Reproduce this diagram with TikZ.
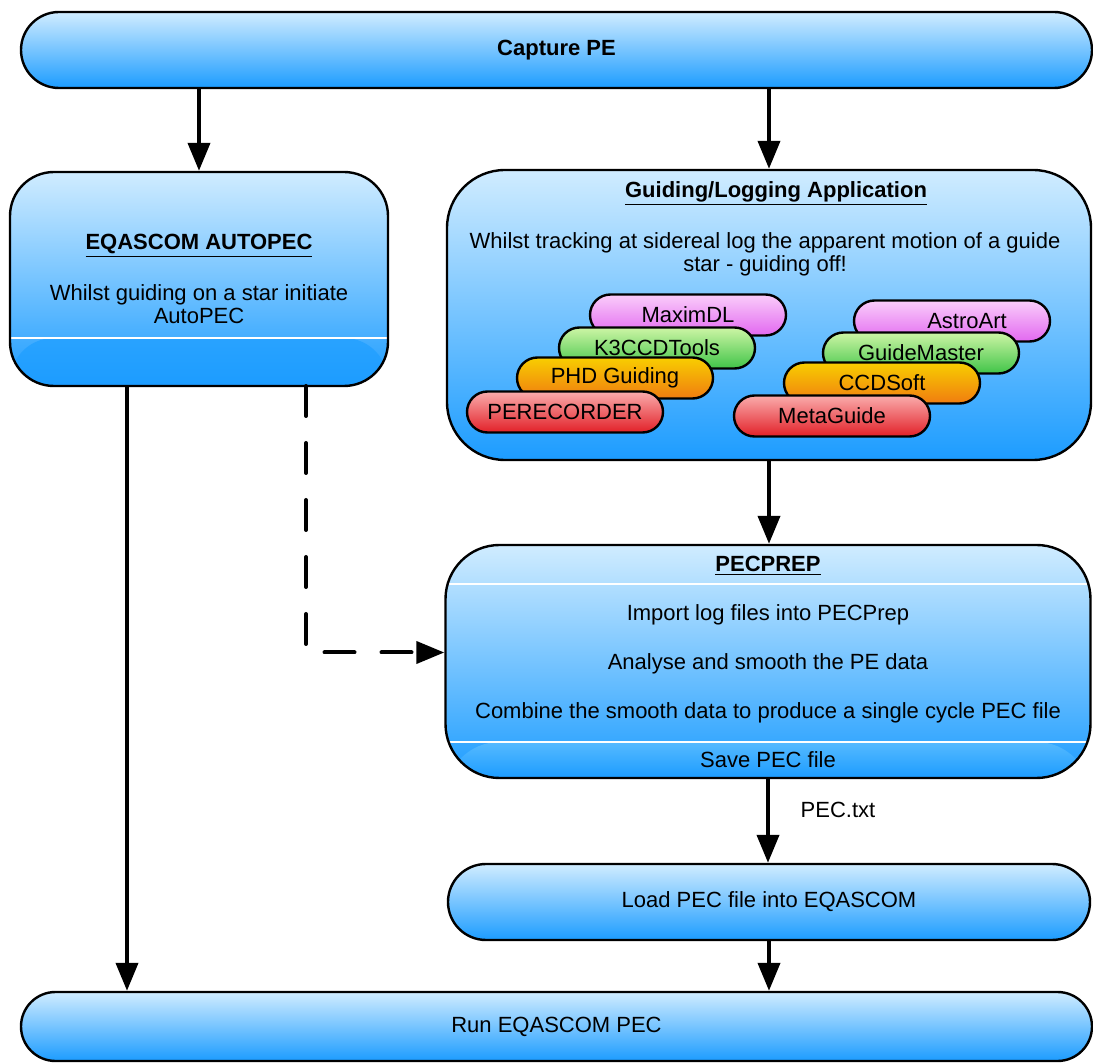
\documentclass[tikz,border=0pt]{standalone}
\usepackage{fontspec}
\setmainfont{Liberation Sans}
\usetikzlibrary{shapes.misc,arrows.meta,positioning}

\definecolor{skytop}{RGB}{208,236,255}
\definecolor{skybot}{RGB}{28,156,255}
\definecolor{skyband}{RGB}{86,186,255}
\definecolor{violettop}{RGB}{250,205,250}
\definecolor{violetbot}{RGB}{226,104,240}
\definecolor{greentop}{RGB}{205,245,165}
\definecolor{greenbot}{RGB}{64,196,72}
\definecolor{orangetop}{RGB}{248,206,0}
\definecolor{orangebot}{RGB}{240,124,16}
\definecolor{redtop}{RGB}{250,172,172}
\definecolor{redbot}{RGB}{226,32,40}

\begin{document}
\begin{tikzpicture}[x=0.5pt,y=-0.5pt,
  font=\fontsize{11}{11.5}\selectfont,
  bar/.style={rounded rectangle, draw, line width=1.2pt, top color=skytop, bottom color=skybot,
    minimum height=38pt, inner sep=0pt},
  panel/.style={rectangle, draw, line width=1.2pt, top color=skytop, bottom color=skybot,
    align=center, inner sep=0pt},
  lowband/.style={path picture={
    \shade[top color=skyband, bottom color=skybot]
      ([yshift=#1]path picture bounding box.south west) rectangle (path picture bounding box.south east);
    \draw[white, line width=1.2pt]
      ([yshift=#1]path picture bounding box.south west) -- ([yshift=#1]path picture bounding box.south east);}},
  app/.style={rounded rectangle, draw, line width=1.2pt, minimum width=98pt, minimum height=20.5pt, inner sep=0pt},
  violetapp/.style={app, top color=violettop, bottom color=violetbot},
  greenapp/.style={app, top color=greentop, bottom color=greenbot},
  orangeapp/.style={app, top color=orangetop, bottom color=orangebot},
  redapp/.style={app, top color=redtop, bottom color=redbot},
  flow/.style={line width=2pt, -{Triangle[length=14pt,width=11pt]}},
  optional/.style={flow, dash pattern=on 15pt off 13.5pt, line cap=round}]

  \useasboundingbox (0,0) rectangle (1093,1063);

  \node[bar, minimum width=535.5pt] (cap) at (556.5,50) {\textbf{Capture PE}};

  \node[panel, lowband=24pt, rounded corners=22pt, minimum width=189pt, minimum height=107pt] (auto) at (199,279)
    {\textbf{\underline{EQASCOM AUTOPEC}}\\[12.5pt] Whilst guiding on a star initiate\\AutoPEC};

  \node[panel, rounded corners=29pt, minimum width=322pt, minimum height=145pt] (guide) at (769,315) {};
  \node (guidetitle) at ([xshift=3.5pt,yshift=-12.5pt]guide.north) {\textbf{\underline{Guiding/Logging Application}}};
  \node[align=center] (guidetext) at ([xshift=-2pt,yshift=-43pt]guide.north)
    {Whilst tracking at sidereal log the apparent motion of  a guide\\star - guiding off!};

  % logging applications
  \node[violetapp] (maxim) at (688,315) {MaximDL};
  \node[greenapp] (k3ccd) at (657,348) {K3CCDTools};
  \node[orangeapp] (phd) at (615,378) {PHD Guiding};
  \node[redapp] (perec) at (565,412) {PERECORDER};
  \node[violetapp] (astroart) at (952,321) {\hspace*{15pt}AstroArt};
  \node[greenapp] (guidemaster) at (921,353) {GuideMaster};
  \node[orangeapp] (ccdsoft) at (882,383) {CCDSoft};
  \node[redapp] (metaguide) at (832,416) {MetaGuide};

  \node[panel, rounded corners=27pt, minimum width=322.5pt, minimum height=116.5pt,
    path picture={
      \draw[white, line width=1.2pt]
        ([yshift=-19.5pt]path picture bounding box.north west) -- ([yshift=-19.5pt]path picture bounding box.north east);
      \shade[top color=skyband, bottom color=skybot]
        ([yshift=18pt]path picture bounding box.south west) rectangle (path picture bounding box.south east);
      \draw[white, line width=1.2pt]
        ([yshift=18pt]path picture bounding box.south west) -- ([yshift=18pt]path picture bounding box.south east);}]
    (prep) at (768,661.5)
    {\textbf{\underline{PECPREP}}\\[13pt] Import log files into PECPrep\\[13pt] Analyse and smooth the PE data\\[13pt]
     Combine the smooth data to produce a single cycle PEC file\\[13pt] Save PEC file};

  \node[bar, minimum width=321pt] (load) at (769,902) {Load PEC file into EQASCOM};

  \node[bar, minimum width=535.5pt, minimum height=34.5pt] (run) at (556.5,1026.5) {Run EQASCOM PEC\hspace{31pt}};

  \coordinate (autoout) at (127,386);
  \coordinate (dashout) at (306,386);

  \path[flow]
    (auto.north |- cap.south) edge (auto.north)
    (guide.north |- cap.south) edge (guide.north)
    (guide.south) edge (guide.south |- prep.north)
    (prep.south) edge node[right, pos=0.37, xshift=12pt] {PEC.txt} (prep.south |- load.north)
    (load.south) edge (load.south |- run.north)
    (autoout) edge (autoout |- run.north);
  \draw[optional] (dashout) |- ([yshift=4.5pt]prep.west);
\end{tikzpicture}
\end{document}
